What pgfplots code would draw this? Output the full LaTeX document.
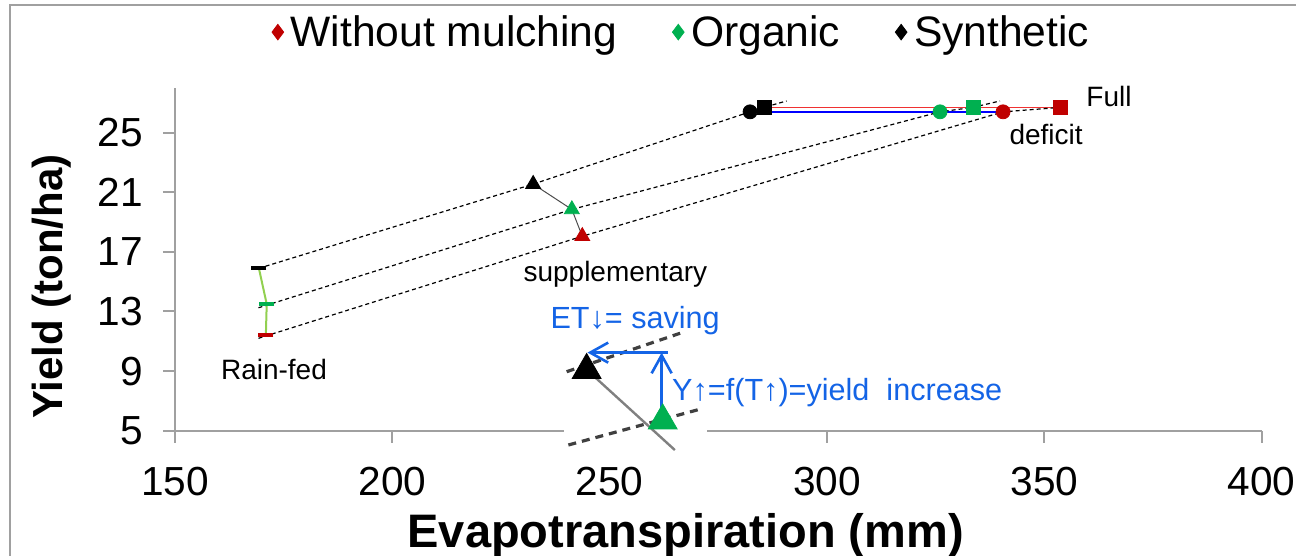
\documentclass[border=0pt]{standalone}
\usepackage{pgfplots}
\pgfplotsset{compat=1.18}
\usepackage{fontspec}
\setmainfont{Liberation Sans}
\usetikzlibrary{arrows.meta}
\definecolor{cred}{RGB}{192,0,0}
\definecolor{cgreen}{RGB}{0,176,80}
\definecolor{lgreen}{RGB}{146,208,80}
\definecolor{ablue}{RGB}{20,100,230}
\definecolor{axgray}{RGB}{160,160,160}
\definecolor{lred}{RGB}{240,50,50}
\begin{document}
\begin{tikzpicture}
\begin{axis}[
  at={(87.5pt,62.65pt)}, anchor=south west,
  scale only axis, width=543.35pt, height=171.35pt,
  xmin=150, xmax=400, ymin=5, ymax=28,
  axis x line*=bottom, axis y line*=left,
  axis line style={axgray, line width=1pt},
  xtick={150,200,...,400}, ytick={5,9,...,25},
  tick align=outside, major tick length=6pt,
  tick style={axgray, line width=1pt},
  /pgf/number format/assume math mode=true,
  ticklabel style={font=\fontsize{20.3}{24}\selectfont},
  xticklabel style={yshift=-8.5pt},
  yticklabel style={xshift=-6.5pt},
  xlabel={Evapotranspiration (mm)},
  ylabel={Yield (ton/ha)},
  xlabel style={at={(axis description cs:0.470,-0.306)}, anchor=center, font=\bfseries\fontsize{23.5}{27}\selectfont},
  ylabel style={at={(axis description cs:-0.1135,0.420)}, anchor=center, font=\bfseries\fontsize{21}{25}\selectfont},
  clip=false,
  legend columns=3,
  legend cell align=left,
  legend image code/.code={\draw[#1] plot coordinates {(0pt,0pt)};},
  legend style={at={(0.4685,1.163)}, anchor=center, draw=none, fill=none,
    font=\fontsize{21.3}{25}\selectfont, inner sep=0pt,
    nodes={inner xsep=3.5pt, inner ysep=1pt},
    /tikz/every even column/.append style={column sep=24pt}},
]
% legend images
\addlegendimage{only marks, mark=diamond*, mark size=3.9pt, cred}
\addlegendentry{Without mulching}
\addlegendimage{only marks, mark=diamond*, mark size=3.9pt, cgreen}
\addlegendentry{Organic}
\addlegendimage{only marks, mark=diamond*, mark size=3.9pt, black}
\addlegendentry{Synthetic}

% connecting lines
\addplot[lred, line width=0.8pt, forget plot] coordinates {(285.5,26.7) (333.6,26.7) (353.8,26.7)};
\addplot[blue, line width=0.8pt, forget plot] coordinates {(282.3,26.4) (326.0,26.4) (340.5,26.4)};
\addplot[black!70, line width=0.5pt, forget plot] coordinates {(232.4,21.55) (241.3,19.85) (243.7,18.05)};
\addplot[lgreen, line width=1pt, forget plot] coordinates {(169.3,15.9) (171.1,13.5) (170.9,11.4)};

% markers: rain-fed
\addplot[only marks, mark=-, mark size=3.8pt, mark options={line width=2pt}, black, forget plot] coordinates {(169.3,15.9)};
\addplot[only marks, mark=-, mark size=3.8pt, mark options={line width=2pt}, cgreen, forget plot] coordinates {(171.1,13.5)};
\addplot[only marks, mark=-, mark size=3.8pt, mark options={line width=2pt}, cred, forget plot] coordinates {(170.9,11.4)};
% supplementary
\addplot[only marks, mark=triangle*, mark size=4.3pt, black, forget plot] coordinates {(232.4,21.55)};
\addplot[only marks, mark=triangle*, mark size=4.3pt, cgreen, forget plot] coordinates {(241.3,19.85)};
\addplot[only marks, mark=triangle*, mark size=4.3pt, cred, forget plot] coordinates {(243.7,18.05)};
% deficit
\addplot[only marks, mark=*, mark size=3.5pt, black, forget plot] coordinates {(282.3,26.4)};
\addplot[only marks, mark=*, mark size=3.5pt, cgreen, forget plot] coordinates {(326.0,26.4)};
\addplot[only marks, mark=*, mark size=3.5pt, cred, forget plot] coordinates {(340.5,26.4)};
% full
\addplot[only marks, mark=square*, mark size=3.5pt, black, forget plot] coordinates {(285.5,26.7)};
\addplot[only marks, mark=square*, mark size=3.5pt, cgreen, forget plot] coordinates {(333.6,26.7)};
\addplot[only marks, mark=square*, mark size=3.5pt, cred, forget plot] coordinates {(353.8,26.7)};

% dashed trend lines
\addplot[black, line width=0.6pt, dash pattern=on 2pt off 1.5pt, forget plot] coordinates {(169.3,15.9) (232.4,21.55) (282.3,26.4) (285.5,26.7) (290.7,27.13)};
\addplot[black, line width=0.6pt, dash pattern=on 2pt off 1.5pt, forget plot] coordinates {(169.2,13.25) (241.3,19.85) (326.0,26.4) (333.6,26.7) (339.8,27.13)};
\addplot[black, line width=0.6pt, dash pattern=on 2pt off 1.5pt, forget plot] coordinates {(169.2,11.2) (243.7,18.05) (340.5,26.4) (353.8,26.7)};

% labels
\node[anchor=base west, inner sep=0pt, font=\fontsize{14}{17}\selectfont] at (axis cs:359.6,26.75) {Full};
\node[anchor=base west, inner sep=0pt, font=\fontsize{14}{17}\selectfont] at (axis cs:341.9,24.24) {deficit};
\node[anchor=base west, inner sep=0pt, font=\fontsize{14}{17}\selectfont] at (axis cs:230.1,15.0) {supplementary};
\node[anchor=base west, inner sep=0pt, font=\fontsize{14}{17}\selectfont] at (axis cs:160.5,8.45) {Rain-fed};

% inset
\fill[white] (axis cs:239.5,3.95) rectangle (axis cs:272.4,5.6);
\addplot[black!75, line width=1.6pt, dash pattern=on 4pt off 3pt, forget plot] coordinates {(240.1,8.96) (266.2,11.54)};
\addplot[black!75, line width=1.6pt, dash pattern=on 4pt off 3pt, forget plot] coordinates {(240.5,4.04) (271.5,6.5)};
\addplot[gray, line width=1.2pt, forget plot] coordinates {(244.7,9.1) (265.0,3.7)};
\addplot[only marks, mark=triangle*, mark size=8.3pt, black, forget plot] coordinates {(244.7,9.07)};
\addplot[only marks, mark=triangle*, mark size=8.3pt, cgreen, forget plot] coordinates {(262.2,5.68)};
\draw[ablue, line width=1.3pt, -{Straight Barb[length=9pt,width=10pt]}] (axis cs:263.4,10.24) -- (axis cs:244.9,10.24);
\draw[ablue, line width=1.3pt, -{Straight Barb[length=9pt,width=10pt]}] (axis cs:261.95,5.6) -- (axis cs:261.95,10.24);
\node[anchor=base west, inner sep=0pt, text=ablue, font=\fontsize{15.3}{18}\selectfont] at (axis cs:236.3,11.87) {ET↓= saving};
\node[anchor=base west, inner sep=0pt, text=ablue, font=\fontsize{15.3}{18}\selectfont] at (axis cs:264.3,7.06) {Y↑=f(T↑)=yield\ \ increase};
\end{axis}
\draw[axgray, line width=1pt] (4.75pt,-10pt) -- (4.75pt,275.5pt) -- (660pt,275.5pt);
\pgfresetboundingbox
\path[use as bounding box] (0pt,0pt) rectangle (648pt,278pt);
\end{tikzpicture}
\end{document}
